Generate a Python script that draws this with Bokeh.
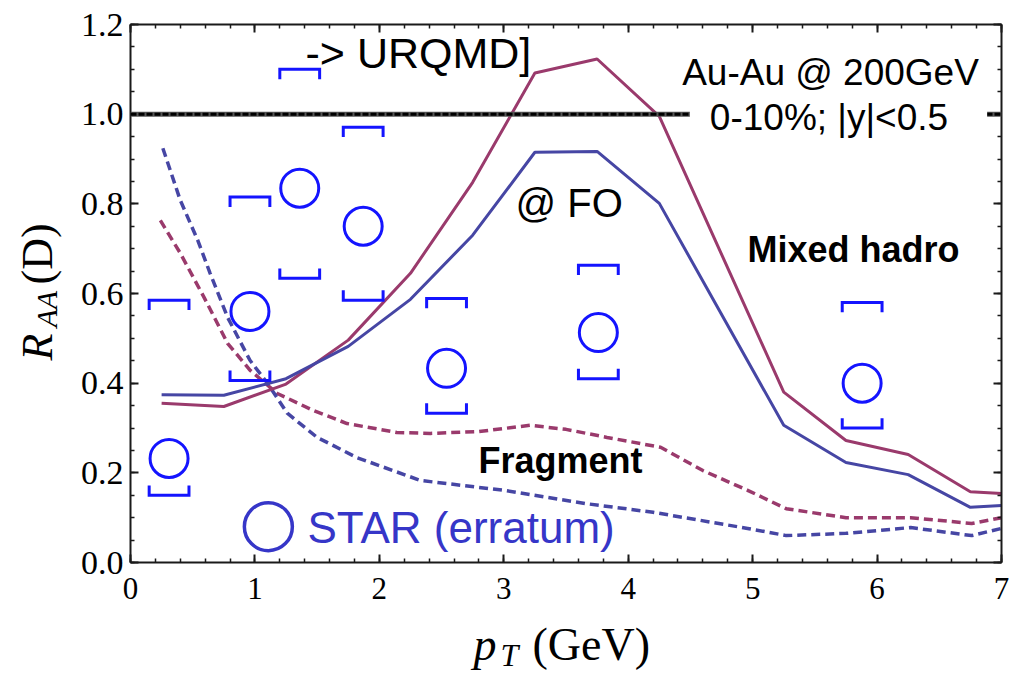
import math
from bokeh.plotting import figure
from bokeh.layouts import row, column
from bokeh.models import (Range1d, LinearAxis, FixedTicker, PrintfTickFormatter,
                          Label, Span)
from bokeh.embed import file_html
from bokeh.resources import INLINE

# ---------------- data ----------------
pt_model = [0.25, 0.75, 1.25, 1.75, 2.25, 2.75, 3.25, 3.75, 4.25, 5.25, 5.75, 6.25, 6.75, 7.0]
raa_mixed_red = [0.355, 0.348, 0.398, 0.496, 0.645, 0.848, 1.092, 1.123, 0.995, 0.380, 0.272, 0.241, 0.158, 0.154]
raa_mixed_blue = [0.374, 0.373, 0.410, 0.482, 0.587, 0.730, 0.915, 0.917, 0.801, 0.306, 0.223, 0.196, 0.123, 0.127]

pt_frag_red = [0.24, 0.40, 0.59, 0.78, 0.96, 1.18, 1.47, 1.74, 2.14, 2.41, 2.80, 3.21, 3.50,
               3.83, 4.26, 4.60, 4.96, 5.27, 5.75, 6.27, 6.76, 7.0]
raa_frag_red = [0.763, 0.690, 0.592, 0.489, 0.429, 0.377, 0.339, 0.310, 0.290, 0.288, 0.292, 0.306, 0.297,
                0.279, 0.257, 0.205, 0.161, 0.120, 0.100, 0.100, 0.087, 0.100]

pt_frag_blue = [0.26, 0.40, 0.54, 0.64, 0.78, 0.96, 1.10, 1.26, 1.50, 1.82, 2.33, 3.00, 3.67,
                4.20, 4.96, 5.27, 5.75, 6.27, 6.76, 7.0]
raa_frag_blue = [0.924, 0.808, 0.719, 0.645, 0.547, 0.451, 0.400, 0.333, 0.279, 0.234, 0.183, 0.161, 0.131,
                 0.112, 0.076, 0.060, 0.065, 0.078, 0.060, 0.076]

star_pt = [0.31, 0.96, 1.36, 1.87, 2.54, 3.76, 5.88]
star_raa = [0.232, 0.560, 0.835, 0.750, 0.433, 0.513, 0.400]
star_sys_hi = [0.585, 0.815, 1.100, 0.971, 0.589, 0.663, 0.580]
star_sys_lo = [0.150, 0.406, 0.634, 0.585, 0.333, 0.410, 0.300]

x_tick_values = [0, 1, 2, 3, 4, 5, 6, 7]
y_tick_values = [0.0, 0.2, 0.4, 0.6, 0.8, 1.0, 1.2]
x_minor_values = [round(i * 0.2, 2) for i in range(36)]
y_minor_values = [round(i * 0.05, 2) for i in range(25)]

# ---------------- styles ----------------
RED = "#9a3a6c"
BLUE = "#4646a4"
STAR_C = "#1414ff"
LEG_C = "#3636c8"
AXIS_C = "#1a1a1a"
SERIF = "Liberation Serif"
SANS = "Liberation Sans"
BRACKET_HW = 0.16      # half width of systematic brackets (x units)
BRACKET_LEG = 0.022    # leg length of brackets (y units)
KEY_X, KEY_Y = 1.108, 0.080   # position of legend key symbol

YLAB_W = 75
MAIN_W = 935
MAIN_H = 618
XLAB_H = 54

p = figure(width=MAIN_W, height=MAIN_H, output_backend="svg", toolbar_location=None,
           x_range=Range1d(0, 7), y_range=Range1d(0, 1.2),
           x_axis_type=None, y_axis_type=None,
           min_border_left=55, min_border_right=9, min_border_top=24, min_border_bottom=56)
p.outline_line_color = None
p.background_fill_color = "white"
p.border_fill_color = "white"


def frame_axis(ticker, formatter=None, labels=True, standoff=8, size="31px"):
    ax = LinearAxis(ticker=ticker)
    if formatter is not None:
        ax.formatter = formatter
    ax.axis_line_color = AXIS_C
    ax.axis_line_width = 2
    ax.major_tick_in = 8
    ax.major_tick_out = 0
    ax.minor_tick_in = 4
    ax.minor_tick_out = 0
    ax.major_tick_line_color = AXIS_C
    ax.major_tick_line_width = 2
    ax.minor_tick_line_color = AXIS_C
    ax.minor_tick_line_width = 1.5
    if labels:
        ax.major_label_text_font = SERIF
        ax.major_label_text_font_size = size
        ax.major_label_text_color = "black"
        ax.major_label_standoff = standoff
    else:
        ax.major_label_text_font_size = "1px"
        ax.major_label_text_color = None
        ax.major_label_standoff = 0
    return ax


def xt():
    return FixedTicker(ticks=x_tick_values, minor_ticks=x_minor_values)


def yt():
    return FixedTicker(ticks=y_tick_values, minor_ticks=y_minor_values)


yfmt = PrintfTickFormatter(format="%.1f")
p.add_layout(frame_axis(xt(), standoff=15, size="31px"), "below")
p.add_layout(frame_axis(yt(), yfmt, standoff=7, size="34px"), "left")
p.add_layout(frame_axis(xt(), labels=False), "above")
p.add_layout(frame_axis(yt(), labels=False), "right")

# reference line at R_AA = 1
p.add_layout(Span(location=1.0, dimension="width", line_color="#555555", line_width=5))
p.add_layout(Span(location=1.0, dimension="width", line_color="black", line_width=3, line_dash="6 2"))

# model curves
p.line(pt_frag_red, raa_frag_red, line_color=RED, line_width=3.5, line_dash="9 5")
p.line(pt_frag_blue, raa_frag_blue, line_color=BLUE, line_width=3.5, line_dash="9 5")
p.line(pt_model, raa_mixed_red, line_color=RED, line_width=3)
p.line(pt_model, raa_mixed_blue, line_color=BLUE, line_width=3)

# STAR data: systematic brackets
top_xs = [[x - BRACKET_HW, x - BRACKET_HW, x + BRACKET_HW, x + BRACKET_HW] for x in star_pt]
top_ys = [[h - BRACKET_LEG, h, h, h - BRACKET_LEG] for h in star_sys_hi]
bot_xs = [[x - BRACKET_HW, x - BRACKET_HW, x + BRACKET_HW, x + BRACKET_HW] for x in star_pt]
bot_ys = [[l + BRACKET_LEG, l, l, l + BRACKET_LEG] for l in star_sys_lo]
p.multi_line(top_xs, top_ys, line_color=STAR_C, line_width=3, line_join="miter")
p.multi_line(bot_xs, bot_ys, line_color=STAR_C, line_width=3, line_join="miter")
p.scatter(star_pt, star_raa, marker="circle", size=38, fill_color=None,
          line_color=STAR_C, line_width=3)

# legend key
p.scatter([KEY_X], [KEY_Y], marker="circle", size=48, fill_color=None,
          line_color=LEG_C, line_width=3.5)


def lab(fig, text, x, y, size, align="left", color="black", font=SANS, style="normal", **kw):
    l = Label(x=x, y=y, x_units="screen", y_units="screen", text=text,
              text_font=font, text_font_size=size, text_font_style=style,
              text_color=color, text_align=align, text_baseline="alphabetic", **kw)
    fig.add_layout(l)
    return l


lab(p, "-> URQMD]", 175, 510, "43px")
lab(p, "Au-Au @ 200GeV", 700, 490, "37px", align="center")
lab(p, "0-10%; |y|<0.5", 708, 445, "37px", align="center",
    background_fill_color="white",
    padding=dict(left=20, right=39, top=2, bottom=2))
lab(p, "@ FO", 385, 360, "40px")
lab(p, "Mixed hadro", 617, 313, "36px", style="bold")
lab(p, "Fragment", 348, 102, "36px", style="bold")
lab(p, "STAR (erratum)", 177, 35, "44px", color=LEG_C)


def blank(w, h):
    f = figure(width=w, height=h, output_backend="svg", toolbar_location=None,
               x_range=Range1d(0, 1), y_range=Range1d(0, 1),
               x_axis_type=None, y_axis_type=None,
               min_border_left=0, min_border_right=0, min_border_top=0, min_border_bottom=0)
    f.outline_line_color = None
    f.background_fill_color = "white"
    f.border_fill_color = "white"
    return f


# x axis title: p_T (GeV)  (frame of this strip is aligned with the main frame)
xl = blank(MAIN_W, XLAB_H)
lab(xl, "p", 343, 28, "46px", font=SERIF, style="italic")
lab(xl, "T", 370, 18, "32px", font=SERIF, style="italic")
lab(xl, "(GeV)", 402, 28, "46px", font=SERIF)

# y axis title: R_AA(D), rotated
yl = blank(YLAB_W, MAIN_H + XLAB_H)
rot = dict(angle=math.pi / 2, angle_units="rad")
lab(yl, "R", 37, 312, "44px", font=SERIF, style="italic", **rot)
lab(yl, "AA", 46, 345, "30px", font=SERIF, style="italic", **rot)
lab(yl, "(D)", 37, 388, "44px", font=SERIF, **rot)

layout = row(yl, column(p, xl, spacing=0), spacing=0)

open("out.html", "w").write(file_html(layout, INLINE))
